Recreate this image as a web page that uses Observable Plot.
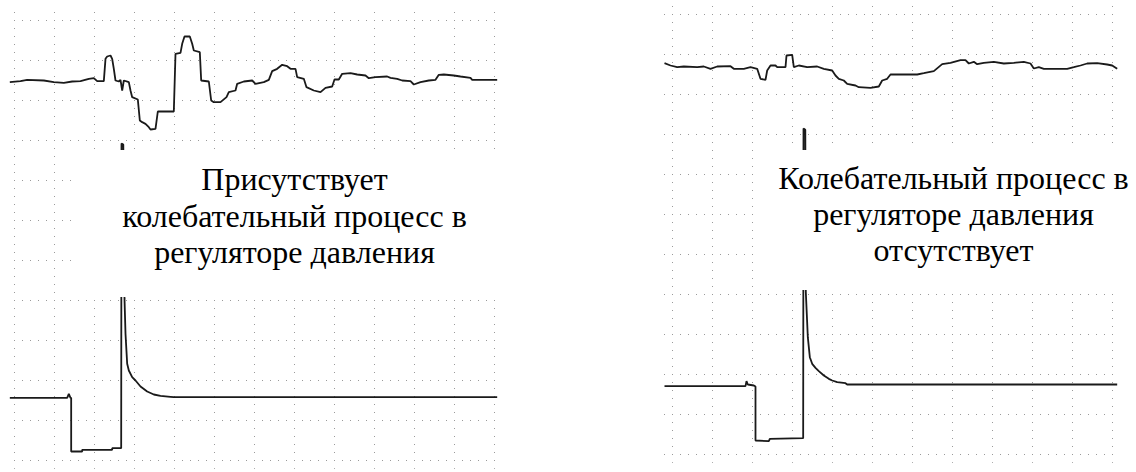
<!DOCTYPE html>
<html>
<head>
<meta charset="utf-8">
<script src="https://cdn.jsdelivr.net/npm/d3@7"></script>
<script src="https://cdn.jsdelivr.net/npm/@observablehq/plot@0.6"></script>
<style>
html, body { margin: 0; padding: 0; background: #fff; }
#wrap { position: relative; width: 1136px; height: 472px; overflow: hidden; }
#left, #right { position: absolute; top: 0; width: 568px; height: 472px; }
#left { left: 0; }
#right { left: 568px; }
svg { display: block; }
</style>
</head>
<body>
<div id="wrap"><div id="left"></div><div id="right"></div></div>
<script>
// ---- grid divisions (oscilloscope screen) ----
const leftDivX = [0,1,2,3,4,5,6,7,8,9,10,11,12];
const leftDivY = [0,1,2,3,4,5,6,7,8,9,10,11];
const rightDivX = [0,1,2,3,4,5,6,7,8,9,10,11];
const rightDivY = [0,1,2,3,4,5,6,7,8,9,10,11];

// ---- annotation text ----
const leftLabel = ["Присутствует", "колебательный процесс в", "регуляторе давления"];
const rightLabel = ["Колебательный процесс в", "регуляторе давления", "отсутствует"];

// ---- left screen: upper trace (pressure), [division, level] ----
const leftUpper = [
  [-0.117,9.458],[0.15,9.483],[0.317,9.517],[0.733,9.5],[0.983,9.458],[1.233,9.442],
  [1.442,9.475],[1.65,9.483],[1.858,9.542],[1.983,9.558],[2.067,9.483],[2.233,9.483],
  [2.275,10.042],[2.317,10.1],[2.4,10.125],[2.442,10.042],[2.483,9.792],[2.525,9.5],
  [2.608,9.475],[2.65,9.517],[2.692,9.25],[2.733,9.5],[2.858,9.458],[2.9,9.25],
  [2.942,9.083],[3.083,9.025],[3.133,8.5],[3.192,8.458],[3.275,8.417],[3.358,8.333],
  [3.4,8.275],[3.525,8.292],[3.583,8.725],[3.983,8.725],[4.025,10.167],[4.15,10.192],
  [4.192,10.417],[4.25,10.6],[4.383,10.6],[4.442,10.417],[4.483,10.25],[4.633,10.208],
  [4.667,9.5],[4.858,9.475],[4.917,9.0],[4.983,8.958],[5.15,8.958],[5.3,9.083],
  [5.358,9.208],[5.525,9.25],[5.567,9.417],[5.733,9.475],[5.942,9.5],[6.025,9.417],
  [6.233,9.458],[6.358,9.517],[6.442,9.733],[6.567,9.792],[6.692,9.892],[6.817,9.858],
  [6.9,9.792],[7.025,9.792],[7.067,9.583],[7.233,9.542],[7.3,9.333],[7.483,9.25],
  [7.65,9.208],[7.775,9.317],[7.942,9.35],[8.0,9.525],[8.108,9.525],[8.192,9.667],
  [8.4,9.683],[8.567,9.65],[8.775,9.625],[8.858,9.558],[9.025,9.583],[9.317,9.6],
  [9.4,9.567],[9.567,9.542],[9.692,9.5],[9.9,9.483],[9.983,9.4],[10.15,9.458],
  [10.358,9.5],[10.525,9.517],[10.608,9.642],[10.733,9.65],[10.983,9.625],[11.15,9.6],
  [11.4,9.567],[11.442,9.517],[12.067,9.517]
];

// ---- left screen: lower trace (control signal) ----
const leftLower = [
  [-0.117,1.567],[1.317,1.567],[1.358,1.667],[1.4,1.567],[1.417,1.567],[1.417,0.225],
  [1.692,0.225],[1.692,0.267],[2.442,0.267],[2.442,0.308],[2.667,0.308],[2.675,7.925],
  [2.72,7.9],[2.75,4.04],[2.775,3.167],[2.817,2.417],[2.858,2.25],[2.942,2.083],
  [3.025,2.0],[3.15,1.85],[3.317,1.725],[3.483,1.65],[3.65,1.617],[3.9,1.592],
  [3.983,1.583],[12.067,1.583]
];

// ---- right screen: upper trace (pressure) ----
const rightUpper = [
  [-0.2,9.783],[-0.05,9.725],[0.117,9.683],[0.283,9.7],[0.617,9.683],[0.783,9.7],
  [0.95,9.642],[1.117,9.7],[1.45,9.708],[1.533,9.642],[1.783,9.642],[1.95,9.683],
  [2.117,9.642],[2.2,9.392],[2.325,9.367],[2.367,9.6],[2.45,9.725],[2.575,9.725],
  [2.617,9.683],[2.825,9.683],[2.85,9.975],[2.992,9.992],[3.033,9.683],[3.158,9.725],
  [3.367,9.683],[3.617,9.7],[3.783,9.642],[3.992,9.6],[4.075,9.475],[4.158,9.392],
  [4.283,9.35],[4.367,9.267],[4.575,9.225],[4.658,9.183],[4.95,9.167],[5.158,9.2],
  [5.242,9.35],[5.367,9.392],[5.45,9.5],[6.117,9.5],[6.283,9.533],[6.533,9.583],
  [6.742,9.758],[6.95,9.792],[7.2,9.858],[7.325,9.858],[7.408,9.775],[7.533,9.817],
  [7.617,9.758],[7.783,9.792],[8.033,9.817],[8.283,9.775],[8.533,9.792],[8.783,9.817],
  [8.95,9.775],[9.033,9.65],[9.158,9.683],[9.283,9.642],[9.45,9.642],[9.867,9.642],
  [10.033,9.683],[10.2,9.725],[10.367,9.775],[10.617,9.783],[10.867,9.75],[10.992,9.725],
  [11.117,9.642]
];

// ---- right screen: lower trace (control signal) ----
const rightLower = [
  [-0.2,1.708],[1.533,1.708],[1.825,1.708],[1.85,1.833],[1.883,1.75],[2.033,1.725],
  [2.075,1.7],[2.075,0.35],[2.408,0.333],[2.433,0.392],[3.267,0.408],[3.275,8.15],
  [3.32,8.12],[3.333,4.058],[3.383,2.933],[3.433,2.433],[3.492,2.267],[3.575,2.167],
  [3.658,2.083],[3.783,1.975],[3.908,1.892],[3.992,1.85],[4.117,1.808],[4.325,1.783],
  [4.367,1.75],[11.117,1.75]
];

const GRID = "#9a9a9a";
const TRACE = "#1a1a1a";
const SERIF = "Liberation Serif";

function screen(o) {
  const svg = Plot.plot({
    width: 568,
    height: 472,
    marginLeft: o.mL, marginRight: o.mR, marginTop: o.mT, marginBottom: o.mB,
    x: {domain: o.xDom, axis: null},
    y: {domain: o.yDom, axis: null},
    marks: [
      Plot.ruleX(o.gx, {x: d => d, y1: o.vTop, y2: o.vBot, stroke: GRID, strokeWidth: 1, strokeDasharray: "1,7"}),
      Plot.ruleY(o.gy, {y: d => d, x1: o.hL, x2: o.hR, stroke: GRID, strokeWidth: 1, strokeDasharray: "1,7"}),
      ...o.traces.map(t => Plot.line(t, {x: d => d[0], y: d => d[1], stroke: TRACE, strokeWidth: 1.8, strokeLinejoin: "miter", strokeLinecap: "butt"})),
      Plot.rect([o.box], {x1: d => d[0], x2: d => d[1], y1: d => d[2], y2: d => d[3], fill: "white"}),
      Plot.text(o.label, {x: o.tx, y: (d, i) => o.ty[i], text: d => d, textAnchor: "middle", lineAnchor: "bottom",
        fontSize: 32, fontFamily: SERIF, fill: "black"})
    ]
  });
  svg.style.overflow = "visible";
  return svg;
}

const leftSvg = screen({
  mL: 14, mR: 74, mT: 20, mB: 12,
  xDom: [0, 12], yDom: [0, 11],
  gx: leftDivX, gy: leftDivY,
  vTop: 11.2, vBot: -0.22, hL: 0, hR: 12.03,
  traces: [leftUpper, leftLower],
  box: [1.6, 13.5, 7.75, 4.075],
  label: leftLabel, tx: 7.0, ty: [6.775, 5.85, 4.95]
});
const rightSvg = screen({
  mL: 104, mR: 24, mT: 14, mB: 18,
  xDom: [0, 11], yDom: [0, 11],
  gx: rightDivX, gy: rightDivY,
  vTop: 11.2, vBot: -0.22, hL: -0.2, hR: 11.03,
  traces: [rightUpper, rightLower],
  box: [2.075, 11.6, 7.6, 4.1],
  label: rightLabel, tx: 7.025, ty: [6.65, 5.75, 4.85]
});
document.getElementById("left").append(leftSvg);
document.getElementById("right").append(rightSvg);

// force the serif font to be resolved before the page is photographed
function touchText() {
  for (const svg of [leftSvg, rightSvg]) {
    svg.querySelectorAll("text").forEach(t => { t.getComputedTextLength(); });
  }
}
touchText();
if (document.fonts && document.fonts.load) {
  document.fonts.load("32px 'Liberation Serif'", "Присутствует").then(() => {
    for (const svg of [leftSvg, rightSvg]) {
      svg.querySelectorAll("g[aria-label='text']").forEach(g => g.setAttribute("font-family", SERIF));
    }
    touchText();
  });
}
</script>
</body>
</html>
